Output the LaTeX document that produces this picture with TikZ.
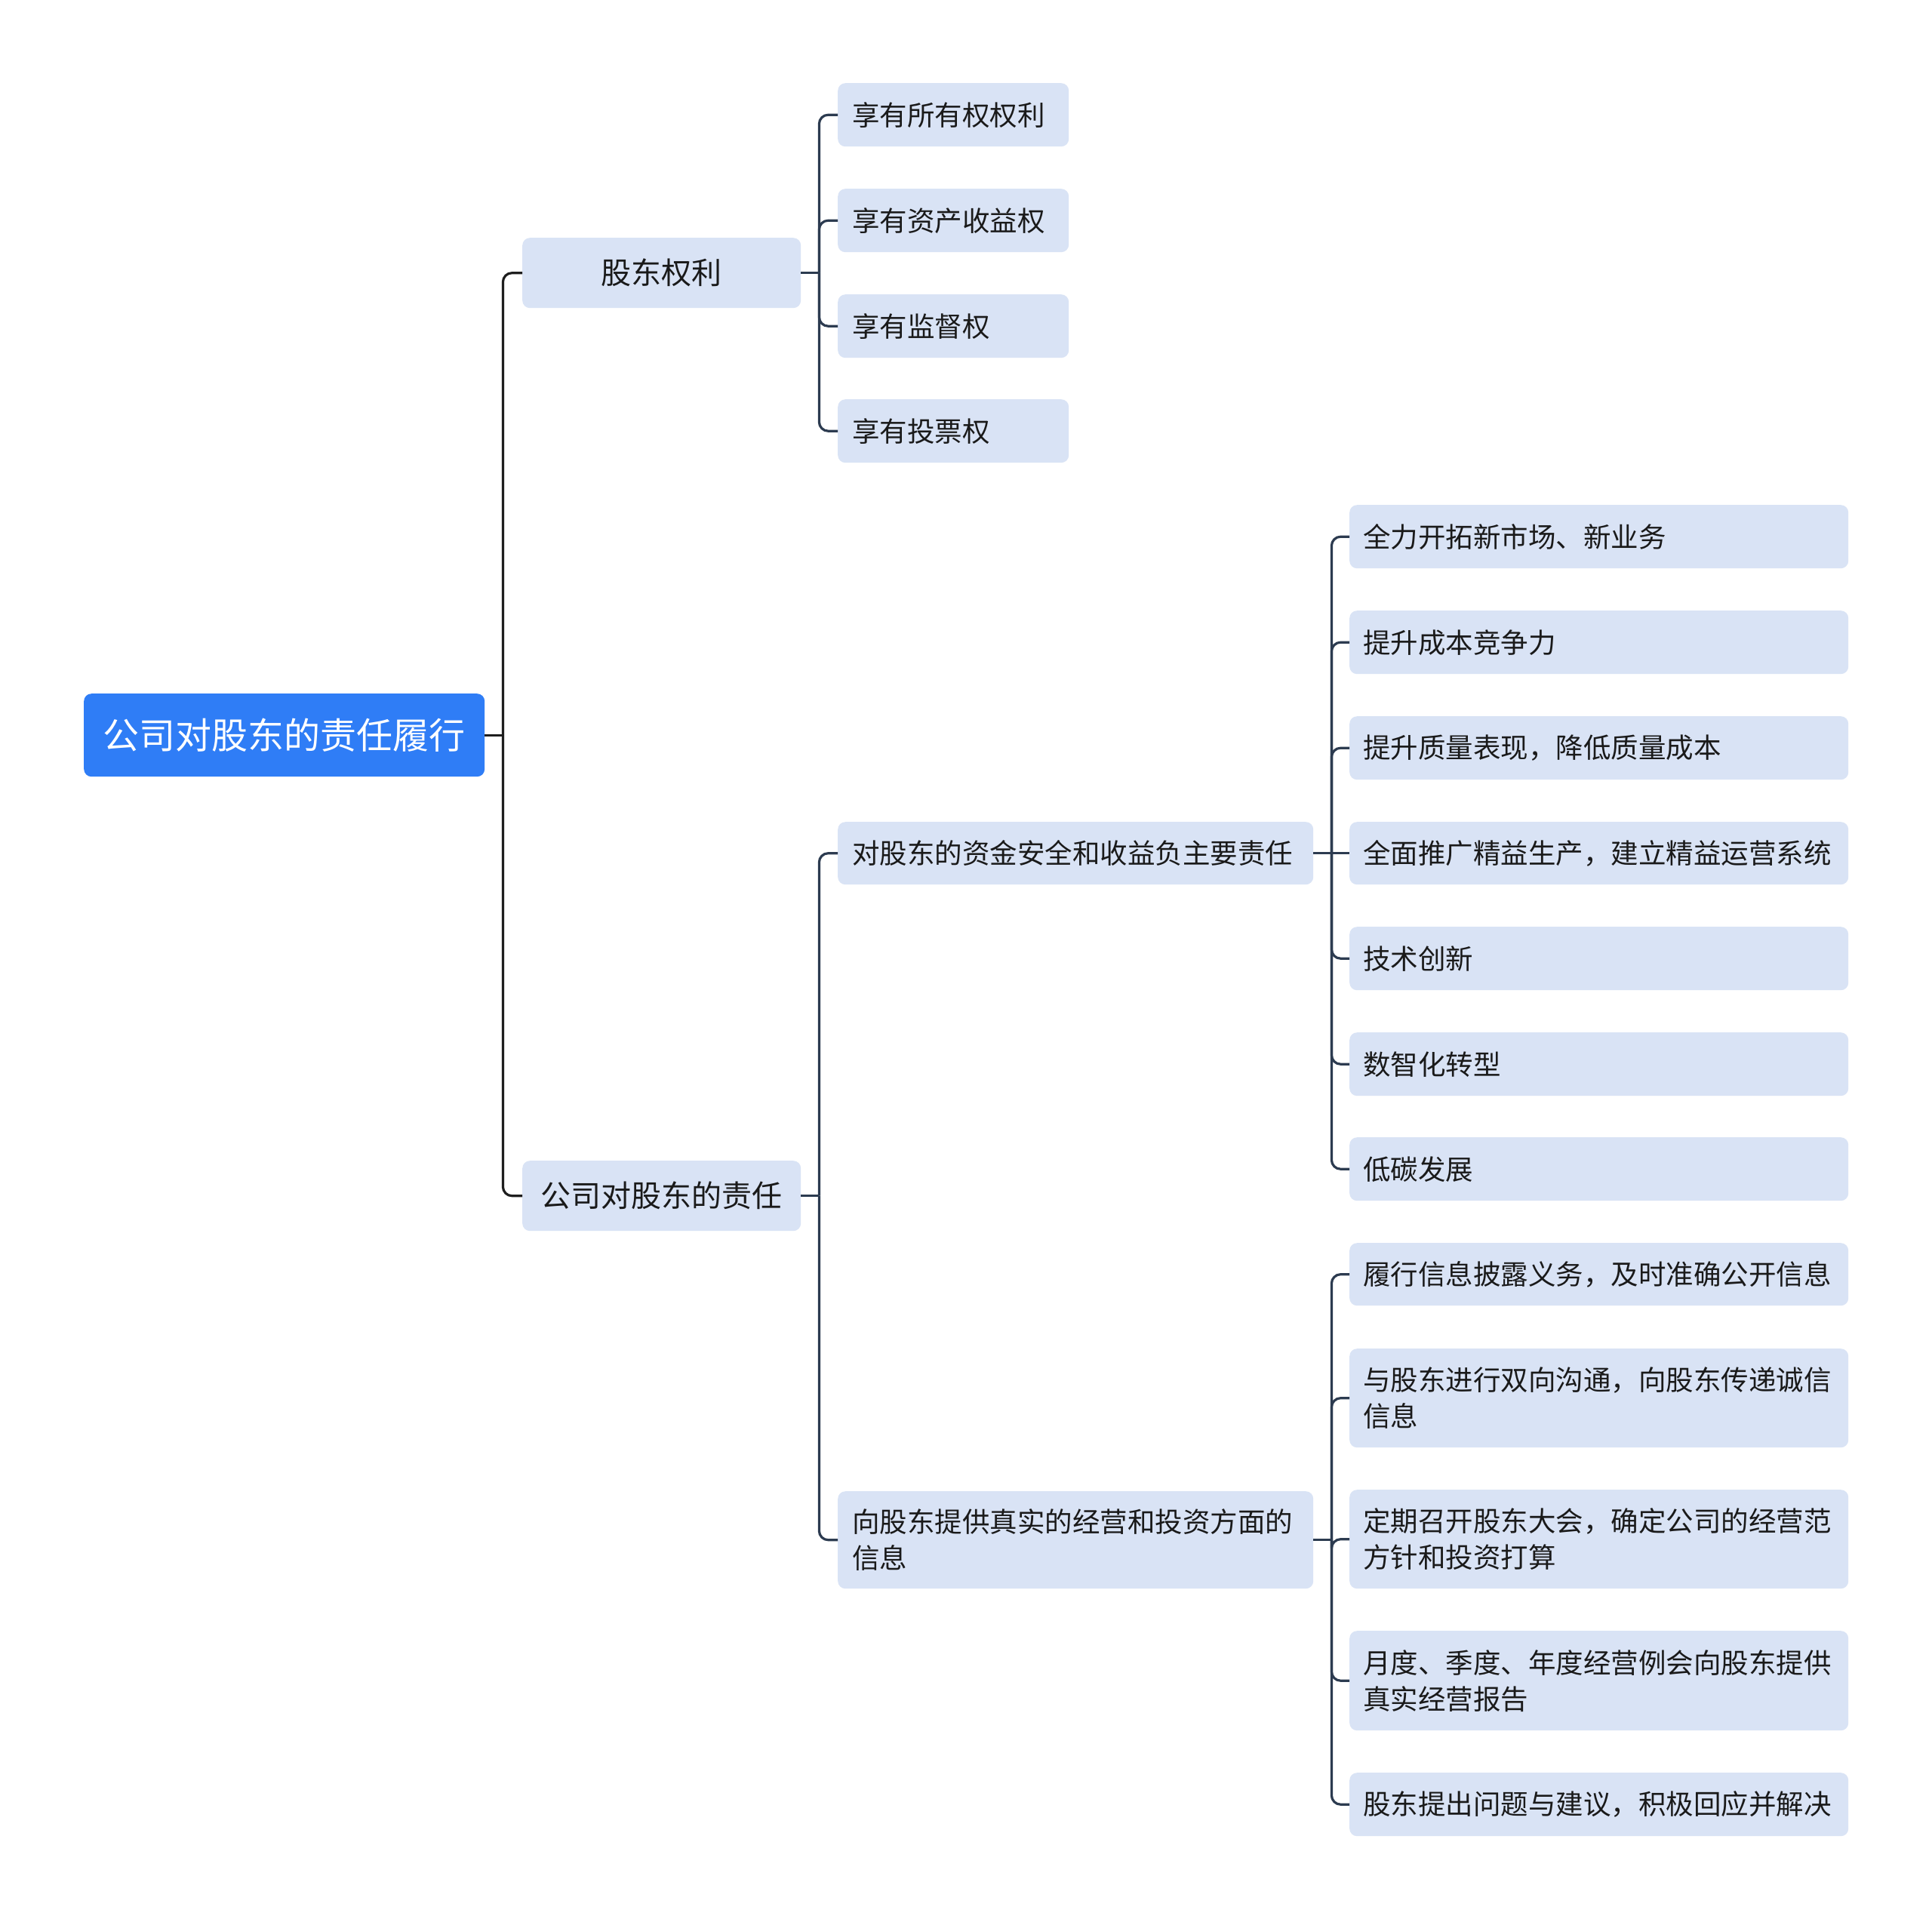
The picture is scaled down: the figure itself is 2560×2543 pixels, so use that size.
\documentclass[tikz,border=0pt]{standalone}
\usepackage{fontspec}
\setmainfont{Noto Sans CJK SC}
\definecolor{rootblue}{RGB}{47,125,246}
\definecolor{boxfill}{RGB}{217,227,245}
\definecolor{txt}{RGB}{26,26,26}
\definecolor{lnk}{RGB}{44,59,80}
\definecolor{rootlnk}{RGB}{30,30,30}
\begin{document}
\begin{tikzpicture}[x=1pt,y=-1pt,
  base/.style={rectangle, rounded corners=10pt, anchor=north west, inner sep=0pt, fill=boxfill, text=txt},
  rootbox/.style={base, fill=rootblue, text=white, font=\fontsize{48}{58}\selectfont, minimum width=531pt, minimum height=110pt},
  lonebox/.style={base, font=\fontsize{40}{50}\selectfont, minimum width=369pt, minimum height=93pt},
  leaf/.style={base, font=\fontsize{36.5}{48}\selectfont, align=left, inner xsep=19pt, text width=#1},
  lthree/.style={leaf=268pt, minimum height=84pt},
  ltwo/.style={leaf=592pt},
  lfour/.style={leaf=625pt, inner xsep=18pt},
  rootline/.style={draw=rootlnk, line width=3.2pt},
  link/.style={draw=lnk, line width=3.2pt},
  elbow/.style={rounded corners=12pt}
]
\useasboundingbox (0,0) rectangle (2560,2543);
\fill[white] (0,0) rectangle (2560,2543);

% root
\node[rootbox] (root) at (111,919) {公司对股东的责任履行};

% level 1
\node[lonebox] (a) at (692,315) {股东权利};
\node[lonebox] (b) at (692,1538) {公司对股东的责任};

% level 3 under a
\node[lthree] (a1) at (1110,110) {享有所有权权利};
\node[lthree] (a2) at (1110,250) {享有资产收益权};
\node[lthree] (a3) at (1110,390) {享有监督权};
\node[lthree] (a4) at (1110,529) {享有投票权};

% level 2 under b
\node[ltwo, minimum height=83pt] (b1) at (1110,1089) {对股东的资金安全和收益负主要责任};
\node[ltwo, minimum height=129pt] (b2) at (1110,1976) {向股东提供真实的经营和投资方面的\\信息};

% level 4 under b1
\node[lfour, minimum height=84pt] (c1) at (1788,669) {全力开拓新市场、新业务};
\node[lfour, minimum height=84pt] (c2) at (1788,809) {提升成本竞争力};
\node[lfour, minimum height=84pt] (c3) at (1788,949) {提升质量表现，降低质量成本};
\node[lfour, minimum height=83pt] (c4) at (1788,1089) {全面推广精益生产，建立精益运营系统};
\node[lfour, minimum height=84pt] (c5) at (1788,1228) {技术创新};
\node[lfour, minimum height=84pt] (c6) at (1788,1368) {数智化转型};
\node[lfour, minimum height=84pt] (c7) at (1788,1507) {低碳发展};

% level 4 under b2
\node[lfour, minimum height=83pt] (d1) at (1788,1647) {履行信息披露义务，及时准确公开信息};
\node[lfour, minimum height=131pt] (d2) at (1788,1787) {与股东进行双向沟通，向股东传递诚信\\信息};
\node[lfour, minimum height=131pt] (d3) at (1788,1974) {定期召开股东大会，确定公司的经营范\\方针和投资打算};
\node[lfour, minimum height=132pt] (d4) at (1788,2161) {月度、季度、年度经营例会向股东提供\\真实经营报告};
\node[lfour, minimum height=84pt] (d5) at (1788,2349) {股东提出问题与建议，积极回应并解决};

% connectors: root
\draw[rootline] (root.east) -- ++(24,0) coordinate (j0);
\draw[rootline, elbow] (j0) |- (a.west);
\draw[rootline, elbow] (j0) |- (b.west);

% connectors: a
\draw[link] (a.east) -- ++(24,0) coordinate (ja);
\foreach \n in {a1,a2,a3,a4} \draw[link, elbow] (ja) |- (\n.west);

% connectors: b
\draw[link] (b.east) -- ++(24,0) coordinate (jb);
\foreach \n in {b1,b2} \draw[link, elbow] (jb) |- (\n.west);

% connectors: b1
\draw[link] (b1.east) -- ++(24,0) coordinate (jc);
\draw[link] (jc) -- (c4.west);
\foreach \n in {c1,c2,c3,c5,c6,c7} \draw[link, elbow] (jc) |- (\n.west);

% connectors: b2
\draw[link] (b2.east) -- ++(24,0) coordinate (jd);
\foreach \n in {d1,d2,d3,d4,d5} \draw[link, elbow] (jd) |- (\n.west);
\end{tikzpicture}
\end{document}
